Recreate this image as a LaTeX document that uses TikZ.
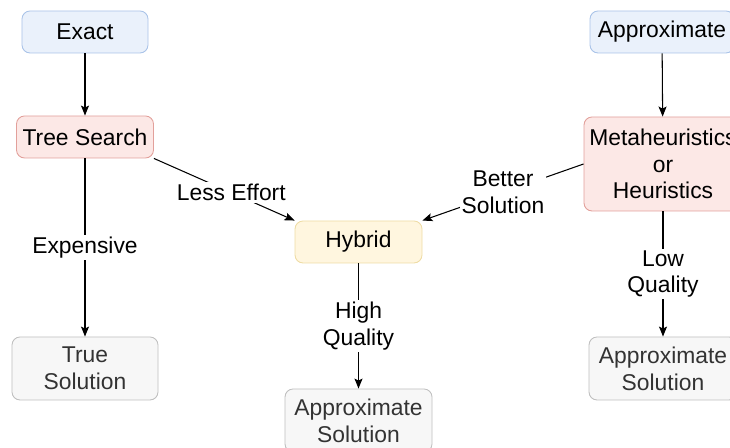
\documentclass[tikz,border=0pt]{standalone}
\usepackage{fontspec}
\setmainfont{Liberation Sans}
\usepackage{xcolor}
\usepackage{tikz}
\usetikzlibrary{arrows.meta}

\definecolor{exactfill}{HTML}{EAF1FB}
\definecolor{exactdraw}{HTML}{A9C3E8}
\definecolor{treefill}{HTML}{FCE8E6}
\definecolor{treedraw}{HTML}{E2A09B}
\definecolor{hybfill}{HTML}{FFF6DF}
\definecolor{hybdraw}{HTML}{EEDCA4}
\definecolor{solfill}{HTML}{F7F7F7}
\definecolor{soldraw}{HTML}{BFBFBF}
\definecolor{soltext}{HTML}{333333}

\begin{document}
\begin{tikzpicture}[
        txt/.style={font=\fontsize{13}{15.2}\selectfont, align=center},
        box/.style={txt, draw, rounded corners=0.16cm, line width=0.5pt, inner sep=0pt},
        sol/.style={box, fill=solfill, draw=soldraw, text=soltext, minimum height=1.26cm},
        conn/.style={line width=0.6pt, -{Stealth[length=0.2cm, width=0.16cm, inset=0.04cm]}},
        lbl/.style={txt, fill=white, inner sep=1pt}
    ]
        \useasboundingbox (0,0) rectangle (14.6,-8.96);
        \node[box, fill=exactfill, draw=exactdraw, minimum width=2.52cm, minimum height=0.84cm] (exact) at (1.70,-0.64) {Exact};
        \node[box, fill=exactfill, draw=exactdraw, minimum width=2.88cm, minimum height=0.84cm] (approx) at (13.24,-0.64) {Approximate};
        \node[box, fill=treefill, draw=treedraw, minimum width=2.74cm, minimum height=0.84cm] (tree) at (1.70,-2.74) {Tree Search};
        \node[box, fill=treefill, draw=treedraw, minimum width=3.16cm, minimum height=1.88cm] (meta) at (13.26,-3.28) {Metaheuristics\\or\\Heuristics};
        \node[box, fill=hybfill, draw=hybdraw, minimum width=2.54cm, minimum height=0.84cm] (hybrid) at (7.17,-4.84) {Hybrid};
        \node[sol, minimum width=2.92cm] (truesol) at (1.70,-7.37) {True\\Solution};
        \node[sol, minimum width=2.94cm] (midsol) at (7.17,-8.41) {Approximate\\Solution};
        \node[sol, minimum width=2.96cm] (rightsol) at (13.26,-7.37) {Approximate\\Solution};

        \draw[conn] (exact) -- (tree);
        \draw[conn] (approx) -- (meta);
        \draw[conn] (tree) -- node[lbl] (expensive) {Expensive} (truesol);
        \draw[conn] (tree.south east) -- node[lbl, pos=0.55] (less) {Less Effort} (hybrid.north west);
        \draw[conn] (meta.west) -- node[lbl] (better) {Better\\Solution} (hybrid.north east);
        \draw[conn] (hybrid) -- node[lbl] (high) {High\\Quality} (midsol);
        \draw[conn] (meta) -- node[lbl] (low) {Low\\Quality} (rightsol);
    \end{tikzpicture}
\end{document}
